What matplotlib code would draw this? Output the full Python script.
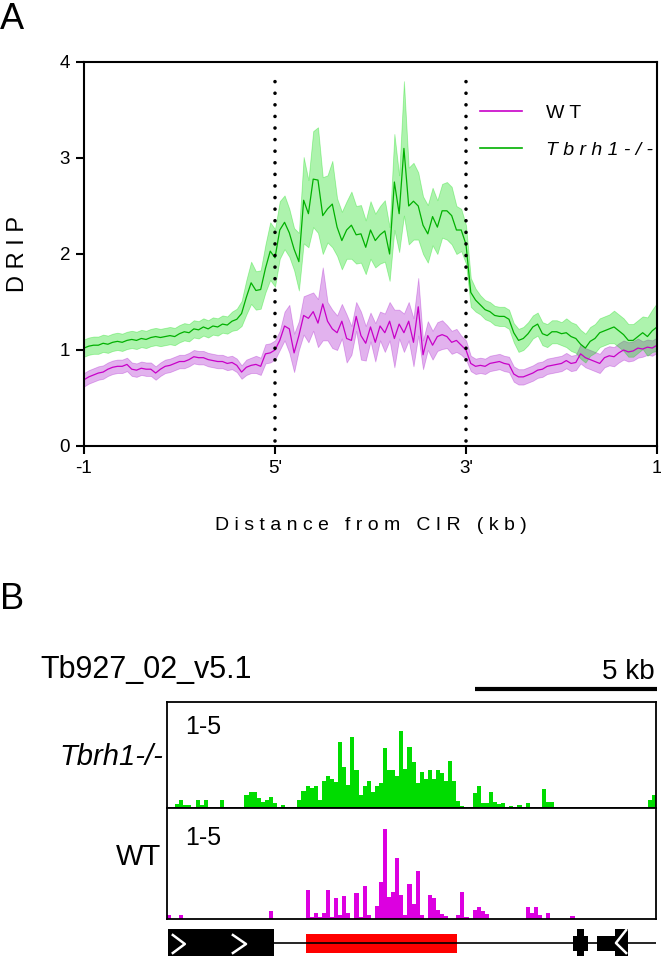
import numpy as np
import matplotlib
matplotlib.use("Agg")
import matplotlib.pyplot as plt
import matplotlib.transforms as mtransforms
from matplotlib.lines import Line2D
from matplotlib.patches import Rectangle

plt.rcParams['font.family'] = ['Liberation Sans', 'DejaVu Sans']

# ---- panel A: DRIP metaplot (-1 kb | CIR body | +1 kb), 121 points ----
pos = np.linspace(0, 3, 121)
tick_pos = [0, 1, 2, 3]
tick_labels = ['-1', "5'", "3'", '1']

wt_mean = [
    0.69, 0.72, 0.74, 0.76, 0.77, 0.80, 0.82, 0.83, 0.83, 0.85,
    0.80, 0.79, 0.81, 0.80, 0.80, 0.76, 0.80, 0.83, 0.84, 0.86,
    0.88, 0.88, 0.90, 0.93, 0.92, 0.92, 0.90, 0.89, 0.88, 0.88,
    0.86, 0.87, 0.84, 0.77, 0.82, 0.84, 0.85, 0.83, 0.96, 0.97,
    1.00,
    1.10, 1.25, 1.22, 0.97, 1.15, 1.36, 1.33, 1.40, 1.28, 1.48,
    1.30, 1.22, 1.18, 1.30, 1.12, 1.10, 1.35, 1.15, 1.07, 1.24,
    1.08, 1.25, 1.18, 1.30, 1.12, 1.27, 1.18, 1.30, 1.08, 1.45,
    0.95, 1.15, 1.05, 1.14, 1.16, 1.14, 1.08, 1.10, 1.05, 1.00,
    0.86, 0.83, 0.84, 0.83, 0.86, 0.87, 0.88, 0.86, 0.85, 0.75,
    0.72, 0.72, 0.74, 0.76, 0.79, 0.80, 0.83, 0.84, 0.85, 0.86,
    0.89, 0.86, 0.87, 0.96, 0.92, 0.90, 0.88, 0.86, 0.92, 0.94,
    0.93, 0.97, 1.00, 0.98, 0.99, 1.02, 1.01, 1.03, 1.02, 1.05,
]
wt_sem = [
    0.07, 0.07, 0.07, 0.07, 0.07, 0.07, 0.07, 0.07, 0.07, 0.07,
    0.07, 0.07, 0.07, 0.07, 0.07, 0.07, 0.07, 0.07, 0.07, 0.07,
    0.07, 0.07, 0.07, 0.07, 0.07, 0.07, 0.07, 0.07, 0.07, 0.07,
    0.07, 0.07, 0.07, 0.07, 0.08, 0.08, 0.09, 0.09, 0.10, 0.10,
    0.10,
    0.10, 0.15, 0.25, 0.20, 0.15, 0.20, 0.25, 0.20, 0.25, 0.38,
    0.20, 0.20, 0.18, 0.18, 0.25, 0.15, 0.15, 0.25, 0.18, 0.15,
    0.20, 0.15, 0.20, 0.20, 0.30, 0.15, 0.20, 0.20, 0.25, 0.30,
    0.15, 0.15, 0.15, 0.15, 0.15, 0.12, 0.12, 0.12, 0.10, 0.10,
    0.08, 0.08, 0.08, 0.08, 0.08, 0.08, 0.08, 0.08, 0.08, 0.08,
    0.08, 0.08, 0.08, 0.08, 0.08, 0.08, 0.08, 0.08, 0.08, 0.08,
    0.08, 0.08, 0.08, 0.10, 0.10, 0.10, 0.10, 0.10, 0.10, 0.10,
    0.10, 0.10, 0.10, 0.10, 0.10, 0.10, 0.08, 0.08, 0.08, 0.08,
]
ko_mean = [
    1.02, 1.04, 1.05, 1.05, 1.07, 1.06, 1.08, 1.09, 1.08, 1.10,
    1.11, 1.10, 1.12, 1.11, 1.13, 1.14, 1.13, 1.14, 1.15, 1.14,
    1.17, 1.19, 1.18, 1.22, 1.21, 1.24, 1.22, 1.25, 1.24, 1.27,
    1.26, 1.30, 1.32, 1.38, 1.55, 1.70, 1.62, 1.63, 1.85, 2.03,
    1.96,
    2.25, 2.33, 2.22, 2.05, 1.92, 2.56, 2.42, 2.78, 2.77, 2.40,
    2.47, 2.52, 2.28, 2.14, 2.25, 2.30, 2.20, 2.21, 2.07, 2.25,
    2.14, 2.20, 2.24, 2.00, 2.75, 2.42, 3.10, 2.50, 2.55, 2.50,
    2.30, 2.21, 2.39, 2.28, 2.45, 2.45, 2.40, 2.25, 2.25, 2.10,
    1.60, 1.52, 1.47, 1.42, 1.40, 1.36, 1.35, 1.35, 1.32, 1.18,
    1.10, 1.12, 1.17, 1.24, 1.27, 1.17, 1.15, 1.19, 1.19, 1.17,
    1.18, 1.14, 1.12, 1.06, 1.02, 1.09, 1.12, 1.18, 1.20, 1.22,
    1.24, 1.20, 1.16, 1.10, 1.10, 1.14, 1.18, 1.14, 1.20, 1.24,
]
ko_sem = [
    0.09, 0.09, 0.09, 0.09, 0.09, 0.09, 0.09, 0.09, 0.09, 0.09,
    0.09, 0.09, 0.09, 0.09, 0.09, 0.09, 0.09, 0.09, 0.09, 0.09,
    0.09, 0.09, 0.09, 0.09, 0.09, 0.09, 0.09, 0.09, 0.09, 0.09,
    0.09, 0.10, 0.11, 0.13, 0.18, 0.22, 0.20, 0.20, 0.25, 0.30,
    0.30,
    0.30, 0.28, 0.25, 0.22, 0.30, 0.45, 0.35, 0.50, 0.55, 0.40,
    0.35, 0.45, 0.30, 0.30, 0.30, 0.35, 0.30, 0.30, 0.28, 0.30,
    0.28, 0.30, 0.32, 0.28, 0.50, 0.40, 0.70, 0.40, 0.40, 0.35,
    0.30, 0.30, 0.30, 0.28, 0.28, 0.30, 0.30, 0.25, 0.22, 0.20,
    0.15, 0.12, 0.10, 0.10, 0.10, 0.10, 0.10, 0.10, 0.10, 0.10,
    0.12, 0.12, 0.12, 0.12, 0.12, 0.12, 0.12, 0.12, 0.12, 0.12,
    0.15, 0.15, 0.15, 0.15, 0.15, 0.15, 0.15, 0.15, 0.15, 0.15,
    0.17, 0.17, 0.17, 0.17, 0.17, 0.17, 0.17, 0.20, 0.22, 0.25,
]

# ---- panel B: genome browser tracks, 120 bins over the locus ----
track_kb = 13.43
ko_cov = [
    0, 0, 4, 8, 3, 3, 0, 8, 3, 8, 0, 0, 0, 8, 0, 0, 0, 0, 0, 13,
    16, 16, 10, 6, 8, 11, 5, 0, 3, 0, 0, 0, 8, 17, 22, 20, 22, 8, 28, 33,
    30, 27, 67, 42, 23, 72, 39, 13, 22, 28, 16, 22, 25, 61, 39, 39, 33, 78, 40, 62,
    47, 25, 37, 30, 39, 30, 39, 36, 28, 48, 28, 7, 2, 0, 0, 15, 22, 5, 5, 16,
    6, 4, 5, 0, 2, 0, 3, 0, 5, 0, 0, 0, 19, 6, 6, 0, 0, 0, 0, 0,
    0, 0, 0, 0, 0, 0, 0, 0, 0, 0, 0, 0, 0, 0, 0, 0, 0, 0, 8, 13,
]
wt_cov = [
    4, 0, 0, 4, 0, 0, 0, 0, 0, 0, 0, 0, 0, 0, 0, 0, 0, 0, 0, 0,
    0, 0, 0, 0, 0, 8, 0, 0, 0, 0, 0, 0, 0, 0, 28, 2, 6, 2, 6, 28,
    2, 20, 4, 22, 6, 0, 25, 2, 32, 4, 0, 13, 36, 88, 21, 26, 59, 23, 4, 34,
    15, 47, 4, 0, 23, 20, 9, 5, 3, 0, 0, 4, 26, 2, 0, 9, 12, 8, 5, 0,
    0, 0, 0, 0, 0, 0, 0, 0, 12, 6, 12, 4, 0, 6, 0, 0, 0, 0, 0, 3,
    0, 0, 0, 0, 0, 0, 0, 0, 0, 0, 0, 0, 0, 0, 0, 0, 0, 0, 0, 0,
]
cov_max = 108

# gene models (kb): start, end, kind
genes = [
    (0.03, 2.94, 'cds'),
    (3.82, 7.96, 'cir'),
    (11.26, 11.45, 'cds'),
    (11.15, 11.56, 'utr'),
    (11.81, 12.30, 'utr'),
    (12.30, 12.66, 'cds'),
]
backbone = (2.94, track_kb)

WT_LINE = '#c800c8'
WT_FILL = '#a000c8'
KO_LINE = '#00b000'
KO_FILL = '#00dc00'
WT_BAR = '#dc00e0'
KO_BAR = '#00dc00'

W, H = 661, 956
fig = plt.figure(figsize=(W / 100, H / 100), dpi=100)


def box(l, t, r, b):
    return [l / W, 1 - b / H, (r - l) / W, (b - t) / H]


# ---------------- panel A ----------------
ax = fig.add_axes(box(84, 62, 657, 446))
wt_mean, wt_sem = np.array(wt_mean), np.array(wt_sem)
ko_mean, ko_sem = np.array(ko_mean), np.array(ko_sem)

ax.fill_between(pos, wt_mean - wt_sem, wt_mean + wt_sem, color=WT_FILL,
                alpha=0.3, lw=0.6, edgecolor=WT_FILL)
ax.fill_between(pos, ko_mean - ko_sem, ko_mean + ko_sem, color=KO_FILL,
                alpha=0.32, lw=0.6, edgecolor=KO_FILL)
ax.plot(pos, wt_mean, color=WT_LINE, lw=0.9)
ax.plot(pos, ko_mean, color=KO_LINE, lw=0.9)

for xv in (1, 2):
    ax.plot([xv, xv], [0.05, 3.9], color='k', lw=2.6,
            linestyle=(0, (0.01, 3.2)), dash_capstyle='round')

ax.set_xlim(0, 3)
ax.set_ylim(0, 4)
ax.set_yticks([0, 1, 2, 3, 4])
ax.set_xticks(tick_pos)
ax.set_xticklabels(tick_labels)
ax.tick_params(direction='out', length=6, width=1.5, labelsize=13.5, pad=4)
for s in ax.spines.values():
    s.set_linewidth(1.5)
ax.set_xlabel('D i s t a n c e   f r o m   C I R   ( k b )', fontsize=14,
              labelpad=29)
ax.set_ylabel('D R I P', fontsize=17, labelpad=22)

handles = [Line2D([], [], color=WT_LINE, lw=1.2),
           Line2D([], [], color=KO_LINE, lw=1.2)]
leg = ax.legend(handles, ['W T', 'T b r h 1 - / -'], loc='upper left',
                bbox_to_anchor=(0.66, 0.935), frameon=False, fontsize=14,
                handlelength=2.2, handletextpad=1.2, labelspacing=1.0)
leg.get_texts()[1].set_style('italic')

fig.text(0.0, 1 - 2 / H, 'A', fontsize=26, va='top', ha='left')

# ---------------- panel B ----------------
fig.text(0.0, 1 - 582 / H, 'B', fontsize=26, va='top', ha='left')

edges = np.linspace(0, track_kb, len(ko_cov) + 1)[:-1]
bw = track_kb / len(ko_cov)

ax1 = fig.add_axes(box(167, 702, 656, 808))
ax2 = fig.add_axes(box(167, 808, 656, 919))
for a, cov, col in ((ax1, ko_cov, KO_BAR), (ax2, wt_cov, WT_BAR)):
    a.bar(edges, cov, width=bw, align='edge', color=col, lw=0)
    a.set_xlim(0, track_kb)
    a.set_ylim(0, cov_max)
    a.set_xticks([])
    a.set_yticks([])
    for s in a.spines.values():
        s.set_linewidth(1.3)
ax1.text(0.037, 0.76, '1-5', transform=ax1.transAxes, fontsize=18,
         va='center', ha='left')
ax2.text(0.037, 0.73, '1-5', transform=ax2.transAxes, fontsize=18,
         va='center', ha='left')

fig.text(163 / W, 1 - 757 / H, 'Tbrh1-/-', fontsize=21, style='italic',
         ha='right', va='center')
fig.text(161 / W, 1 - 857 / H, 'WT', fontsize=21, ha='right', va='center')
fig.text(40 / W, 1 - 670 / H, 'Tb927_02_v5.1', fontsize=22, ha='left',
         va='center')
fig.text(655 / W, 1 - 672 / H, '5 kb', fontsize=20, ha='right', va='center')

# 5 kb scale bar
trans = mtransforms.blended_transform_factory(ax1.transData, fig.transFigure)
ax1.plot([track_kb + 0.03 - 5, track_kb + 0.03], [1 - 689 / H] * 2,
         color='k', lw=3, transform=trans, clip_on=False,
         solid_capstyle='butt')

# gene annotation track
axg = fig.add_axes(box(167, 922, 656, 956))
axg.set_xlim(0, track_kb)
axg.set_ylim(-13, 21)
axg.axis('off')
axg.plot(backbone, [0, 0], color='k', lw=1.2)
half = {'cds': 14, 'utr': 7.5, 'cir': 9.5}
for start, end, kind in genes:
    col = 'red' if kind == 'cir' else 'k'
    axg.add_patch(Rectangle((start, -half[kind]), end - start,
                            2 * half[kind], color=col, lw=0))
# strand chevrons
for x0, x1 in ((0.16, 0.49), (1.81, 2.17)):
    axg.plot([x0, x1, x0], [8, -1, -10], color='white', lw=1.8)
axg.plot([12.61, 12.33, 12.61], [13, 0, -10], color='white', lw=1.8)

fig.savefig('out.png', dpi=100)
